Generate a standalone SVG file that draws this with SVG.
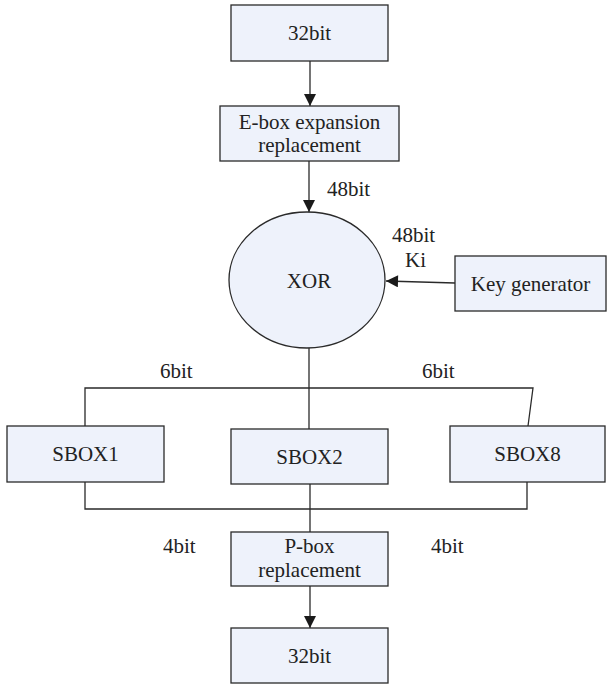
<svg xmlns="http://www.w3.org/2000/svg" width="608" height="684" viewBox="0 0 608 684">
  <style>
    .box { fill: #eef2fb; stroke: #2a2a2a; stroke-width: 1.3; }
    .wire { fill: none; stroke: #2a2a2a; stroke-width: 1.3; }
    .c { text-anchor: middle; }
    text { font-family: "Liberation Serif", "Times New Roman", serif; font-size: 21px; fill: #222; }
  </style>
  <defs>
    <marker id="arrBig" viewBox="0 0 10 10" refX="10" refY="5" markerWidth="16" markerHeight="12" markerUnits="userSpaceOnUse" orient="auto">
      <path d="M0,0 L10,5 L0,10 Z" fill="#1a1a1a"/>
    </marker>
  </defs>

  <g id="connectors">
    <line class="wire" x1="310" y1="61" x2="310" y2="106" marker-end="url(#arrBig)"/>
    <line class="wire" x1="309" y1="161" x2="309" y2="212" marker-end="url(#arrBig)"/>
    <line class="wire" x1="455" y1="283" x2="386" y2="281" marker-end="url(#arrBig)"/>
    <!-- fan-out to the S-boxes -->
    <path class="wire" d="M309,348 V429"/>
    <path class="wire" d="M85,426 V388 H533 L528,426"/>
    <!-- fan-in from the S-boxes -->
    <path class="wire" d="M85,482 V509 H527 V482"/>
    <path class="wire" d="M310,484 V532"/>
    <line class="wire" x1="310" y1="586" x2="310" y2="628" marker-end="url(#arrBig)"/>
  </g>

  <g id="labels">
    <text x="327" y="196">48bit</text>
    <text x="392" y="242">48bit</text>
    <text x="405" y="267">Ki</text>
    <text x="160" y="378">6bit</text>
    <text x="422" y="378">6bit</text>
    <text x="163" y="553">4bit</text>
    <text x="431" y="553">4bit</text>
  </g>

  <g id="in32">
    <rect class="box" x="231" y="5" width="157" height="56"/>
    <text class="c" x="309.5" y="40">32bit</text>
  </g>

  <g id="ebox">
    <rect class="box" x="220" y="106" width="179" height="55"/>
    <text class="c" x="309.5" y="129">E-box expansion</text>
    <text class="c" x="309.5" y="152">replacement</text>
  </g>

  <g id="xor">
    <ellipse class="box" cx="307" cy="280" rx="78" ry="68"/>
    <text class="c" x="309" y="288">XOR</text>
  </g>

  <g id="keygen">
    <rect class="box" x="455" y="256" width="151" height="55"/>
    <text class="c" x="530.5" y="291">Key generator</text>
  </g>

  <g id="sbox1">
    <rect class="box" x="7" y="426" width="157" height="56"/>
    <text class="c" x="85.5" y="461">SBOX1</text>
  </g>

  <g id="sbox2">
    <rect class="box" x="231" y="429" width="157" height="55"/>
    <text class="c" x="309.5" y="464">SBOX2</text>
  </g>

  <g id="sbox8">
    <rect class="box" x="450" y="426" width="155" height="56"/>
    <text class="c" x="527.5" y="461">SBOX8</text>
  </g>

  <g id="pbox">
    <rect class="box" x="231" y="532" width="157" height="54"/>
    <text class="c" x="309.5" y="553">P-box</text>
    <text class="c" x="309.5" y="577">replacement</text>
  </g>

  <g id="out32">
    <rect class="box" x="231" y="628" width="157" height="55"/>
    <text class="c" x="309.5" y="663">32bit</text>
  </g>
</svg>
